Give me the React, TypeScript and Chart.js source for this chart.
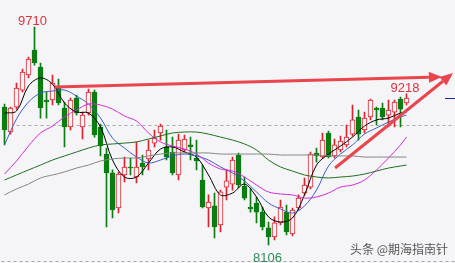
import React, { useEffect, useRef } from "react";
import { Chart, registerables } from "chart.js";
Chart.register(...registerables);

// OHLC per trading day (68 candles)
const opens = [9121, 8937, 9121, 9246, 9357, 9541, 9416, 9173, 9173, 9268, 9114, 8974, 9187, 8974, 9077, 9232, 8974, 8775, 8636, 8378, 8621, 8680, 8606, 8709, 8739, 8856, 8930, 8827, 8790, 8621, 8805, 8842, 8746, 8584, 8378, 8393, 8253, 8532, 8554, 8768, 8540, 8385, 8415, 8348, 8231, 8165, 8268, 8348, 8187, 8378, 8488, 8532, 8783, 8753, 8930, 8761, 8805, 8842, 8922, 9048, 8952, 9048, 9114, 9114, 9062, 9084, 9180, 9151];
const highs = [9143, 9121, 9298, 9401, 9489, 9710, 9445, 9232, 9357, 9327, 9158, 9187, 9210, 9084, 9254, 9246, 8996, 8819, 8658, 8643, 8753, 8746, 8864, 8768, 8878, 8952, 8996, 8952, 8900, 8922, 8915, 8900, 8878, 8694, 8474, 8488, 8510, 8658, 8753, 8783, 8606, 8525, 8459, 8385, 8275, 8312, 8437, 8400, 8378, 8474, 8599, 8790, 8819, 8930, 8944, 8886, 8907, 8989, 9136, 9099, 9084, 9180, 9121, 9151, 9173, 9173, 9195, 9218];
const lows = [8842, 8922, 9106, 9232, 9335, 9430, 9040, 9040, 9136, 9136, 8827, 8952, 9062, 8886, 9062, 8900, 8761, 8238, 8304, 8341, 8569, 8621, 8562, 8621, 8658, 8827, 8878, 8731, 8621, 8584, 8790, 8731, 8658, 8378, 8238, 8158, 8201, 8437, 8510, 8525, 8437, 8348, 8268, 8216, 8106, 8142, 8253, 8180, 8172, 8363, 8474, 8518, 8716, 8746, 8746, 8746, 8790, 8827, 8907, 8878, 8930, 9026, 8989, 9026, 8974, 8974, 8974, 9136];
const closes = [8952, 9114, 9261, 9379, 9474, 9445, 9114, 9158, 9298, 9151, 8974, 9173, 9077, 9062, 9232, 8915, 8834, 8636, 8363, 8628, 8680, 8672, 8680, 8680, 8805, 8893, 8981, 8753, 8636, 8878, 8886, 8827, 8724, 8385, 8422, 8238, 8496, 8577, 8731, 8547, 8451, 8371, 8348, 8238, 8165, 8268, 8385, 8201, 8363, 8451, 8547, 8775, 8761, 8878, 8753, 8842, 8871, 8900, 9026, 8922, 9040, 9173, 9099, 9048, 9099, 9158, 9106, 9187];

// Moving averages read every second candle (plus the last one)
const ma5 = [9077, 9092, 9276, 9335, 9290, 9151, 9084, 9077, 8974, 8731, 8606, 8606, 8709, 8812, 8827, 8790, 8753, 8621, 8474, 8488, 8554, 8459, 8312, 8275, 8304, 8474, 8694, 8775, 8834, 8900, 8981, 9026, 9040, 9077, 9084];
const ma10 = [8842, 9033, 9158, 9224, 9239, 9246, 9202, 9143, 9040, 8893, 8819, 8753, 8709, 8731, 8761, 8775, 8761, 8731, 8680, 8636, 8577, 8496, 8415, 8371, 8341, 8393, 8510, 8687, 8775, 8842, 8922, 8967, 9011, 9048, 9062];
const ma20 = [8628, 8724, 8834, 8930, 8981, 9048, 9099, 9143, 9136, 9106, 9055, 9018, 8930, 8864, 8834, 8812, 8775, 8709, 8665, 8650, 8606, 8547, 8496, 8481, 8474, 8451, 8459, 8488, 8532, 8547, 8584, 8658, 8746, 8842, 8900];
const ma40 = [8584, 8621, 8658, 8694, 8731, 8761, 8790, 8819, 8842, 8849, 8856, 8864, 8886, 8908, 8930, 8937, 8937, 8922, 8900, 8878, 8849, 8805, 8731, 8680, 8650, 8621, 8606, 8599, 8606, 8613, 8628, 8650, 8672, 8687, 8694];
const ma60 = [8474, 8518, 8554, 8599, 8621, 8643, 8672, 8694, 8724, 8739, 8746, 8746, 8761, 8775, 8783, 8783, 8783, 8783, 8775, 8775, 8775, 8775, 8775, 8768, 8768, 8768, 8768, 8761, 8761, 8761, 8753, 8753, 8753, 8753, 8753];

const dashLevel = 8989;
const bottomLevel = 7988;
// arrows: [startIndex, startPrice, tipIndex, tipPrice]
const arrow1 = [8.4, 9268, 72.9, 9342];
const arrow2 = [55.1, 8672, 74.75, 9371];
const watermark = "头条 @期海指南针";

const TOTAL = 76;
const labels = Array.from({ length: TOTAL }, (_, i) => String(i));
const maIdx = Array.from({ length: 34 }, (_, j) => j * 2).concat([67]);

const RED = "#d9232e";
const GREEN = "#0b7d12";
const BG = "#f5f5f8";

function maSeries(vals: number[]) {
  const arr: (number | null)[] = new Array(TOTAL).fill(null);
  maIdx.forEach((k, j) => (arr[k] = vals[j]));
  return arr;
}

function drawArrow(ctx: CanvasRenderingContext2D, x1: number, y1: number, x2: number, y2: number) {
  const ang = Math.atan2(y2 - y1, x2 - x1);
  const hl = 13;
  const hw = 5.5;
  const bx = x2 - hl * Math.cos(ang);
  const by = y2 - hl * Math.sin(ang);
  ctx.beginPath();
  ctx.moveTo(x1, y1);
  ctx.lineTo(bx, by);
  ctx.stroke();
  ctx.beginPath();
  ctx.moveTo(x2, y2);
  ctx.lineTo(bx + hw * Math.sin(ang), by - hw * Math.cos(ang));
  ctx.lineTo(bx - hw * Math.sin(ang), by + hw * Math.cos(ang));
  ctx.closePath();
  ctx.fill();
}

const overlay = {
  id: "overlay",
  beforeDatasetsDraw(chart: any) {
    const { ctx, chartArea, scales } = chart;
    const x = scales.x, y = scales.y;
    ctx.save();
    ctx.strokeStyle = "#a9a9b0";
    ctx.lineWidth = 1;
    ctx.setLineDash([3, 3]);
    const y1 = Math.round(y.getPixelForValue(dashLevel)) + 0.5;
    ctx.beginPath();
    ctx.moveTo(x.getPixelForValue(1), y1);
    ctx.lineTo(chartArea.right, y1);
    ctx.stroke();
    const y2 = Math.round(y.getPixelForValue(bottomLevel)) + 0.5;
    ctx.beginPath();
    ctx.moveTo(chartArea.left, y2);
    ctx.lineTo(chartArea.right, y2);
    ctx.stroke();
    ctx.restore();
  },
  afterDatasetsDraw(chart: any) {
    const { ctx, scales } = chart;
    const x = scales.x, y = scales.y;
    ctx.save();
    // arrows
    ctx.strokeStyle = "#e8464c";
    ctx.fillStyle = "#e8464c";
    ctx.lineWidth = 3;
    ctx.lineCap = "butt";
    [arrow1, arrow2].forEach((a) => {
      drawArrow(ctx, x.getPixelForValue(a[0]), y.getPixelForValue(a[1]), x.getPixelForValue(a[2]), y.getPixelForValue(a[3]));
    });
    // last close marker
    const lc = Math.round(y.getPixelForValue(closes[closes.length - 1])) + 0.5;
    ctx.strokeStyle = "#1c2a9c";
    ctx.lineWidth = 1;
    ctx.beginPath();
    ctx.moveTo(445, lc);
    ctx.lineTo(458, lc);
    ctx.stroke();
    // extreme labels
    ctx.font = "13px 'Liberation Sans', Arial, sans-serif";
    ctx.textAlign = "center";
    ctx.textBaseline = "alphabetic";
    let hiIdx = 0;
    highs.forEach((h, i) => { if (h > highs[hiIdx]) hiIdx = i; });
    let loIdx = 0;
    lows.forEach((l, i) => { if (l < lows[loIdx]) loIdx = i; });
    const last = highs.length - 1;
    ctx.fillStyle = "#e0303a";
    ctx.fillText(String(highs[hiIdx]), x.getPixelForValue(hiIdx) - 2, y.getPixelForValue(highs[hiIdx]) - 2);
    ctx.fillText(String(highs[last]), x.getPixelForValue(last) - 1.5, y.getPixelForValue(highs[last]) - 2);
    ctx.fillStyle = "#2f8a5a";
    ctx.fillText(String(lows[loIdx]), x.getPixelForValue(loIdx) - 1, y.getPixelForValue(lows[loIdx]) + 17);
    // watermark
    ctx.font = "12px 'Noto Sans CJK SC', sans-serif";
    ctx.textAlign = "right";
    ctx.textBaseline = "middle";
    ctx.fillStyle = "#555555";
    ctx.fillText(watermark, 448, 249);
    ctx.restore();
  },
};

export default function App() {
  const ref = useRef<HTMLCanvasElement | null>(null);
  useEffect(() => {
    if (!ref.current) return;
    const up = opens.map((o, i) => closes[i] >= o);
    const lineDs = (data: number[], color: string) => ({
      type: "line" as const,
      data: maSeries(data),
      borderColor: color,
      borderWidth: 1,
      pointRadius: 0,
      spanGaps: true,
      tension: 0.35,
      fill: false,
      order: 1,
    });
    const chart = new Chart(ref.current, {
      type: "bar",
      data: {
        labels,
        datasets: [
          lineDs(ma60, "#858585"),
          lineDs(ma40, "#1e6e1e"),
          lineDs(ma20, "#d22ad2"),
          lineDs(ma10, "#3a5cc8"),
          lineDs(ma5, "#000000"),
          {
            type: "bar",
            data: opens.map((o, i) => [o, closes[i]]),
            backgroundColor: up.map((u) => (u ? BG : GREEN)),
            borderColor: up.map((u) => (u ? RED : GREEN)),
            borderWidth: 1,
            borderSkipped: false,
            barThickness: 5,
            grouped: false,
            order: 5,
          } as any,
          {
            type: "bar",
            data: lows.map((l, i) => [l, highs[i]]),
            backgroundColor: up.map((u) => (u ? RED : GREEN)),
            borderWidth: 0,
            barThickness: 1,
            grouped: false,
            order: 6,
          } as any,
        ],
      },
      options: {
        animation: false,
        responsive: false,
        maintainAspectRatio: false,
        events: [],
        layout: { padding: { left: 1.5, right: 0.5, top: 0, bottom: 0 } },
        plugins: { legend: { display: false }, tooltip: { enabled: false } },
        scales: {
          x: { display: false, offset: true, grid: { display: false } },
          y: { display: false, min: 7973, max: 9909 },
        },
      },
      plugins: [overlay],
    });
    return () => chart.destroy();
  }, []);
  return (
    <div style={{ position: "fixed", left: 0, top: 0, width: 455, height: 263, overflow: "hidden", background: BG }}>
      <canvas ref={ref} width={458} height={263} style={{ width: 458, height: 263, display: "block" }} />
    </div>
  );
}
